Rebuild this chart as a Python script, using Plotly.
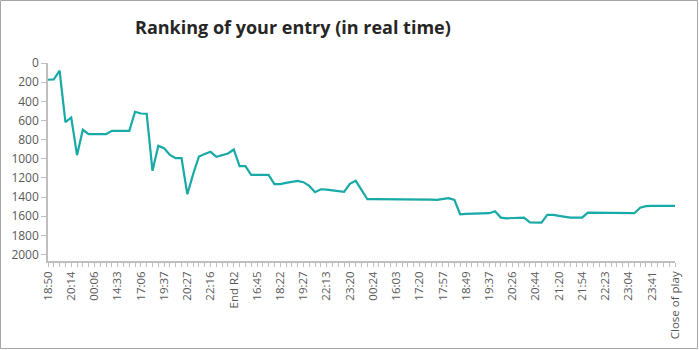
import plotly.graph_objects as go

# Time labels shown on the category axis (one every 4 snapshots)
time_labels = ["18:50", "20:14", "00:06", "14:33", "17:06", "19:37", "20:27",
               "22:16", "End R2", "16:45", "18:22", "19:27", "22:13", "23:20",
               "00:24", "16:03", "17:20", "17:57", "18:49", "19:37", "20:26",
               "20:44", "21:20", "21:54", "22:23", "23:04", "23:41", "Close of play"]
label_every = 4

# Ranking of the entry at each snapshot
ranking = [175, 171, 80, 617, 569, 962, 697, 743, 743, 743,
           743, 708, 708, 708, 708, 509, 527, 530, 1126, 865,
           889, 959, 993, 993, 1370, 1160, 976, 951, 927, 980,
           966, 945, 903, 1077, 1077, 1168, 1168, 1168, 1168, 1265,
           1265, 1251, 1241, 1230, 1244, 1283, 1349, 1318, 1321, 1328,
           1335, 1345, 1262, 1230, 1325, 1422, 1422, 1422, 1422, 1422,
           1422, 1422, 1422, 1422, 1419, 1422, 1426, 1429, 1420, 1411,
           1429, 1579, 1575, 1575, 1572, 1570, 1568, 1547, 1614, 1621,
           1621, 1616, 1614, 1664, 1666, 1666, 1586, 1586, 1596, 1608,
           1614, 1614, 1614, 1562, 1562, 1562, 1562, 1562, 1565, 1568,
           1568, 1568, 1510, 1495, 1492, 1492, 1492, 1492, 1492]

y_ticks = list(range(0, 2001, 200))

W, H = 699, 350
ML, MR, MT, MB = 48, 24, 63, 89
PW, PH = W - ML - MR, H - MT - MB

def px_x(p):
    return (p - ML) / PW

def px_y(p):
    return (H - MB - p) / PH

idx = list(range(len(ranking)))
tick_pos = [k * label_every for k in range(len(time_labels))]

axis_grey = "#bfbfbf"
label_grey = "#595959"
font_family = "Open Sans, Noto Sans, DejaVu Sans, sans-serif"

fig = go.Figure()
fig.add_trace(go.Scatter(
    x=idx, y=ranking, mode="lines",
    line=dict(color="#17AAA7", width=2.2),
    hoverinfo="x+y", showlegend=False,
))

fig.update_layout(
    width=W, height=H,
    margin=dict(l=ML, r=MR, t=MT, b=MB),
    paper_bgcolor="white", plot_bgcolor="white",
    font=dict(family=font_family, color=label_grey),
    xaxis=dict(
        range=[0, len(ranking) - 1],
        tickmode="array", tickvals=tick_pos, ticktext=time_labels,
        tickangle=-90, tickfont=dict(size=11.5, color=label_grey),
        ticks="outside", ticklen=4, tickcolor=axis_grey, tickwidth=1,
        minor=dict(dtick=1, tick0=0, ticks="outside", ticklen=4,
                   tickcolor=axis_grey, tickwidth=1, showgrid=False),
        showline=True, linecolor=axis_grey, linewidth=1.5,
        showgrid=False, zeroline=False,
    ),
    yaxis=dict(
        range=[2067, 0],
        tickmode="array", tickvals=y_ticks,
        tickfont=dict(size=12, color=label_grey),
        ticks="outside", ticklen=5, tickcolor=axis_grey, tickwidth=1,
        showline=True, linecolor=axis_grey, linewidth=1.5,
        showgrid=False, zeroline=False,
    ),
    shapes=[dict(
        type="rect", xref="paper", yref="paper",
        x0=px_x(0.5), x1=px_x(697.5), y0=px_y(348.5), y1=px_y(0.5),
        line=dict(color="#a6a6a6", width=1), fillcolor="rgba(0,0,0,0)",
        layer="below",
    )],
    annotations=[dict(
        text="<b>Ranking of your entry (in real time)</b>",
        xref="paper", yref="paper", x=px_x(292.5), y=px_y(27),
        xanchor="center", yanchor="middle", showarrow=False,
        font=dict(family=font_family, size=18, color="#262626"),
    )],
)

fig.write_html("out.html")
